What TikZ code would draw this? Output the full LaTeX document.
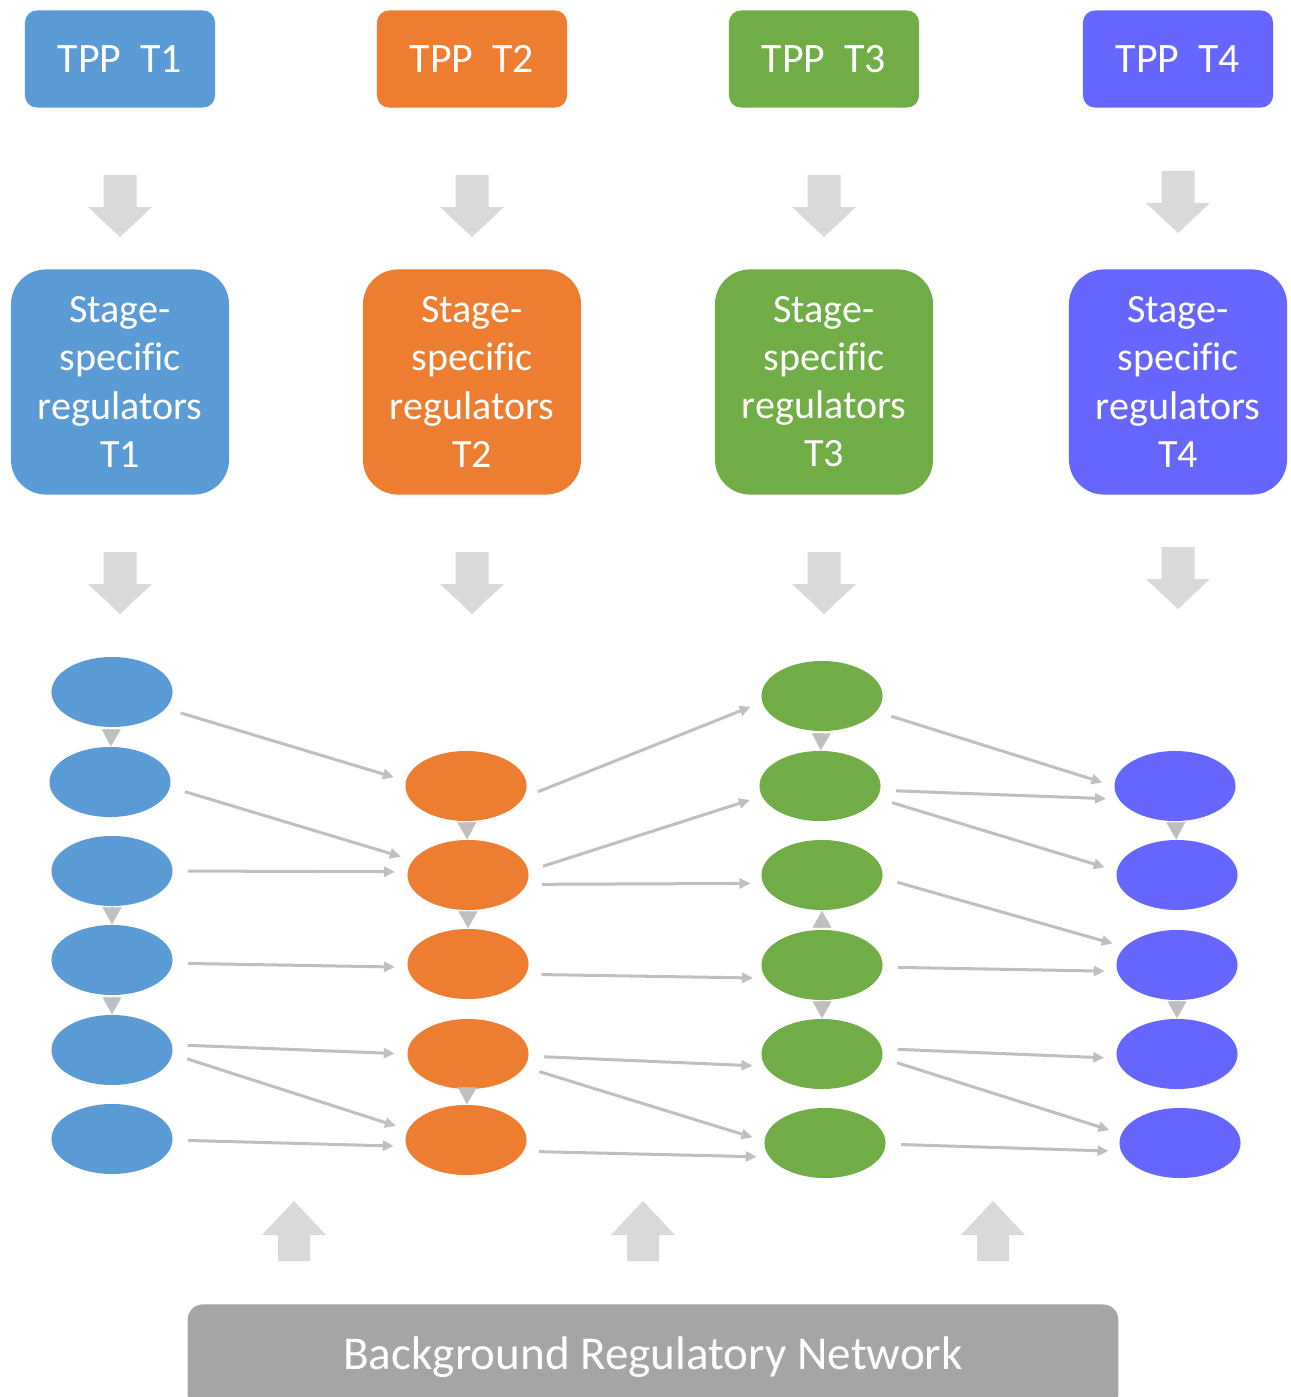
\documentclass[tikz,border=0pt]{standalone}
\usepackage{fontspec}
\setmainfont{Carlito}[Ligatures=NoCommon]
\usetikzlibrary{shapes,arrows.meta,positioning}
\definecolor{cblue}{HTML}{5B9BD5}
\definecolor{corange}{HTML}{ED7D31}
\definecolor{cgreen}{HTML}{70AD47}
\definecolor{cpurple}{HTML}{6666FF}
\definecolor{netgray}{HTML}{A5A5A5}
\definecolor{arrowgray}{HTML}{D9D9D9}
\definecolor{linkgray}{HTML}{BFBFBF}
\tikzstyle{tpp}=[rectangle,rounded corners=1.2mm,text=white,inner sep=0pt,minimum width=1.9cm,minimum height=0.97cm,font=\fontsize{11.9pt}{14pt}\selectfont]
\tikzstyle{stage}=[rectangle,rounded corners=3.5mm,text=white,inner sep=0pt,minimum width=2.18cm,minimum height=2.25cm,align=center,font=\fontsize{11.4pt}{13.66pt}\selectfont]
\tikzstyle{gene}=[ellipse,inner sep=0pt,minimum width=1.21cm,minimum height=0.70cm]
\tikzstyle{bgnet}=[rectangle,rounded corners=1.5mm,fill=netgray,text=white,inner sep=0pt,minimum width=9.30cm,minimum height=1.05cm,font=\fontsize{13.4pt}{16pt}\selectfont]
\tikzstyle{bigarrow}=[fill=arrowgray]
\tikzstyle{link}=[-{Triangle[length=1.1mm,width=1mm]},draw=linkgray,fill=linkgray,line width=0.3mm,shorten <=1.5mm,shorten >=1.2mm]
\tikzstyle{hop}=[-{Triangle[length=1.7mm,width=1.9mm]},draw=linkgray,fill=linkgray,line width=0.1pt,shorten <=0.3mm]

\begin{document}
\begin{tikzpicture}[x=0.01cm,y=-0.01cm]
    \useasboundingbox (0,0) rectangle (1291,1397);

    % Zeitpunkte
    \node[tpp,fill=cblue] (tpp1) at (120,59) {TPP~~T1};
    \node[tpp,fill=corange] (tpp2) at (472,59) {TPP~~T2};
    \node[tpp,fill=cgreen] (tpp3) at (824,59) {TPP~~T3};
    \node[tpp,fill=cpurple] (tpp4) at (1178,59) {TPP~~T4};

    % Regulatoren
    \node[stage,fill=cblue] (reg1) at (120,382) {Stage-\\specific\\regulators\\T1};
    \node[stage,fill=corange] (reg2) at (472,382) {Stage-\\specific\\regulators\\T2};
    \node[stage,fill=cgreen] (reg3) at (824,382) {Stage-\\specific\\regulators\\T3};
    \node[stage,fill=cpurple] (reg4) at (1178,382) {Stage-\\specific\\regulators\\T4};

    % Blockpfeile
    \foreach \x/\y in {120/175,472/175,824/175,1178/171,120/552,472/552,824/552,1178/547}
        \fill[bigarrow] (\x-16.5,\y) -- (\x+16.5,\y) -- (\x+16.5,\y+32) -- (\x+32,\y+32)
            -- (\x,\y+62) -- (\x-32,\y+32) -- (\x-16.5,\y+32) -- cycle;
    \foreach \x in {294,643,993}
        \fill[bigarrow] (\x-16,1261) -- (\x+16,1261) -- (\x+16,1235) -- (\x+32,1235)
            -- (\x,1201) -- (\x-32,1235) -- (\x-16,1235) -- cycle;

    % Gene
    \foreach \n/\x/\y in {1/112/692,2/110/782,3/112/871,4/112/960,5/112/1050,6/112/1139}
        \node[gene,fill=cblue] (b\n) at (\x,\y) {};
    \foreach \n/\x/\y in {1/466/786,2/468/875,3/468/964,4/468/1054,5/466/1140}
        \node[gene,fill=corange] (o\n) at (\x,\y) {};
    \foreach \n/\x/\y in {1/822/696,2/820/786,3/822/875,4/822/965,5/822/1054,6/825/1143}
        \node[gene,fill=cgreen] (g\n) at (\x,\y) {};
    \foreach \n/\x/\y in {1/1175/786,2/1177/875,3/1177/965,4/1177/1054,5/1180/1143}
        \node[gene,fill=cpurple] (p\n) at (\x,\y) {};

    % Netzwerk
    \node[bgnet] (brn) at (653,1357) {Background Regulatory Network};

    % Kanten innerhalb
    \foreach \s/\t in {b1/b2,b3/b4,b4/b5,o1/o2,o2/o3,o4/o5,g1/g2,g4/g3,g4/g5,p1/p2,p3/p4}
        \draw[hop] (\s) -- (\t);

    % Kanten zwischen Zeitpunkten
    \foreach \s/\a/\t/\b in {b1/-17/o1/175,b2/-5/o2/165,b3/0/o2/177,b4/-3/o3/183,
        b5/5/o4/180,b5/-4/o5/170,b6/-1/o5/186,
        o1/-11/g1/186,o2/4/g2/190,o2/-9/g3/188,o3/-10/g4/193,
        o4/-2/g5/192,o4/-13/g6/178,o5/-11/g6/194,
        g1/-16/p1/180,g2/-4/p1/193,g2/-12/p2/176,g3/-3/p3/161,
        g4/-2/p3/186,g5/5/p4/184,g5/-4/p5/171,g6/-1/p5/188}
        \draw[link] (\s.\a) -- (\t.\b);

\end{tikzpicture}
\end{document}
